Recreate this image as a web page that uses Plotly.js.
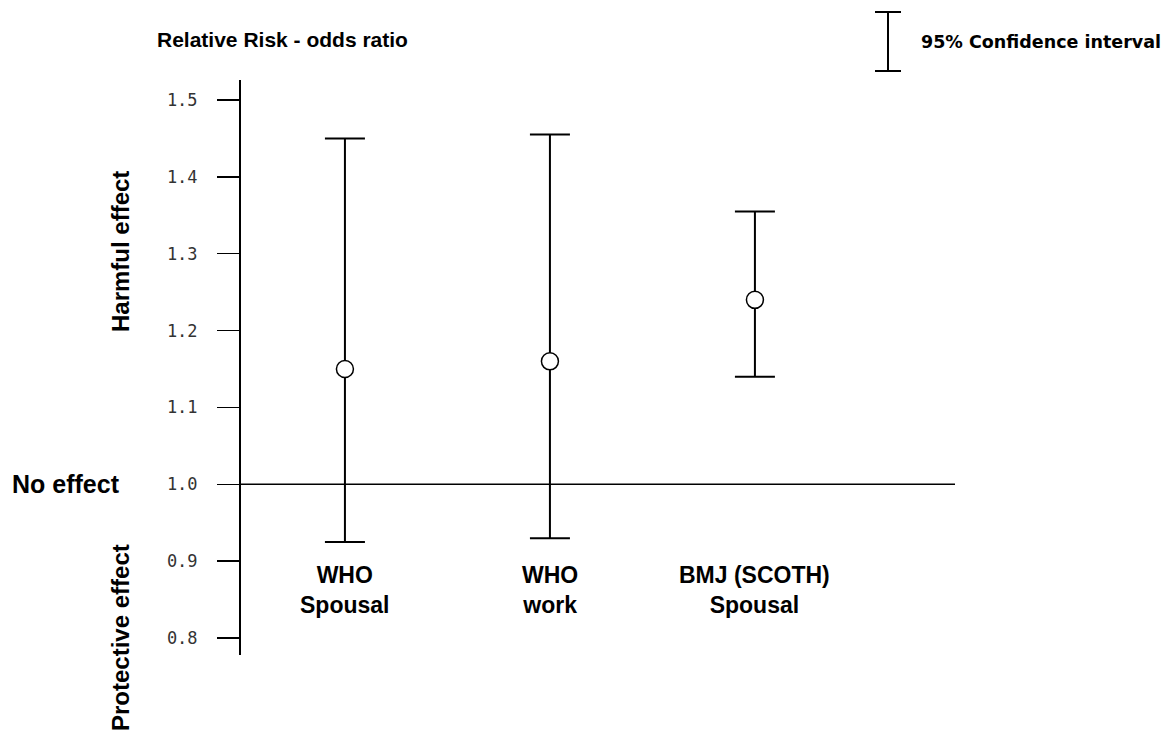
<!DOCTYPE html>
<html><head><meta charset="utf-8">
<script src="https://cdn.plot.ly/plotly-3.0.1.min.js"></script>
<style>html,body{margin:0;padding:0;background:#fff}</style>
</head><body>
<div id="chart" style="width:1172px;height:734px"></div>
<script>
const categories = ["WHO<br>Spousal", "WHO<br>work", "BMJ (SCOTH)<br>Spousal"];
const oddsRatio = [1.15, 1.16, 1.24];
const upperCI = [1.45, 1.455, 1.355];
const lowerCI = [0.925, 0.93, 1.14];
const yTicks = [0.8, 0.9, 1.0, 1.1, 1.2, 1.3, 1.4, 1.5];
const yTickText = ["0.8", "0.9", "1.0", "1.1", "1.2", "1.3", "1.4", "1.5"];

const idx = categories.map((c, i) => i);
const trace = {
  type: "scatter", mode: "markers",
  x: idx, y: oddsRatio,
  marker: {symbol: "circle", size: 17, color: "#fff", line: {color: "#000", width: 1.5}},
  error_y: {
    type: "data", symmetric: false,
    array: upperCI.map((u, i) => u - oddsRatio[i]),
    arrayminus: lowerCI.map((l, i) => oddsRatio[i] - l),
    color: "#000", thickness: 2, width: 20
  },
  hoverinfo: "skip", showlegend: false, cliponaxis: false
};

const boldFont = {family: "Liberation Sans, Arial, sans-serif", color: "#000"};
const px = v => (v - 241) / 714;
const py = v => (655 - v) / 575;

const annotations = categories.map((c, i) => ({
  x: i, y: 0.863, xref: "x", yref: "y", text: "<b>" + c + "</b>",
  showarrow: false, xanchor: "center", yanchor: "middle",
  font: Object.assign({size: 23}, boldFont)
}));
annotations.push(
  {xref: "paper", yref: "paper", x: px(155), y: py(40), xanchor: "left", yanchor: "middle",
   text: "<b>Relative Risk - odds ratio</b>", showarrow: false, font: Object.assign({size: 21}, boldFont)},
  {xref: "paper", yref: "paper", x: px(919), y: py(42), xanchor: "left", yanchor: "middle",
   text: "<b>95% Confidence interval</b>", showarrow: false,
   font: {family: "DejaVu Sans, sans-serif", size: 17.5, color: "#000"}},
  {xref: "paper", yref: "y", x: px(10), y: 1.0, xanchor: "left", yanchor: "middle",
   text: "<b>No effect</b>", showarrow: false, font: Object.assign({size: 25}, boldFont)},
  {xref: "paper", yref: "paper", x: px(120), y: py(252), xanchor: "center", yanchor: "middle",
   text: "<b>Harmful effect</b>", textangle: -90, showarrow: false, font: Object.assign({size: 24}, boldFont)},
  {xref: "paper", yref: "paper", x: px(120), y: py(638), xanchor: "center", yanchor: "middle",
   text: "<b>Protective effect</b>", textangle: -90, showarrow: false, font: Object.assign({size: 24}, boldFont)}
);

const shapes = [
  {type: "line", xref: "paper", yref: "y", x0: 0, x1: 1, y0: 1.0, y1: 1.0, line: {color: "#000", width: 1.5}, layer: "below"},
  {type: "line", xref: "paper", yref: "paper", x0: px(888), x1: px(888), y0: py(12), y1: py(71), line: {color: "#000", width: 2}},
  {type: "line", xref: "paper", yref: "paper", x0: px(875), x1: px(901), y0: py(12), y1: py(12), line: {color: "#000", width: 2}},
  {type: "line", xref: "paper", yref: "paper", x0: px(875), x1: px(901), y0: py(71), y1: py(71), line: {color: "#000", width: 2}}
];

const layout = {
  width: 1172, height: 734,
  margin: {l: 241, r: 217, t: 80, b: 79},
  paper_bgcolor: "#fff", plot_bgcolor: "#fff",
  xaxis: {range: [-0.507, 2.976], showgrid: false, zeroline: false, showline: false,
          showticklabels: false, ticks: "", fixedrange: true},
  yaxis: {range: [0.778, 1.526], showgrid: false, zeroline: false,
          showline: true, linecolor: "#000", linewidth: 2,
          tickvals: yTicks, ticktext: yTickText, ticks: "outside", ticklen: 22, tickwidth: 1.5, tickcolor: "#000",
          ticklabelstandoff: 16,
          tickfont: {family: "DejaVu Sans Mono, monospace", size: 17, color: "#333"}, fixedrange: true},
  annotations: annotations,
  shapes: shapes
};

Plotly.newPlot("chart", [trace], layout, {displayModeBar: false, staticPlot: true});
</script>
</body></html>
